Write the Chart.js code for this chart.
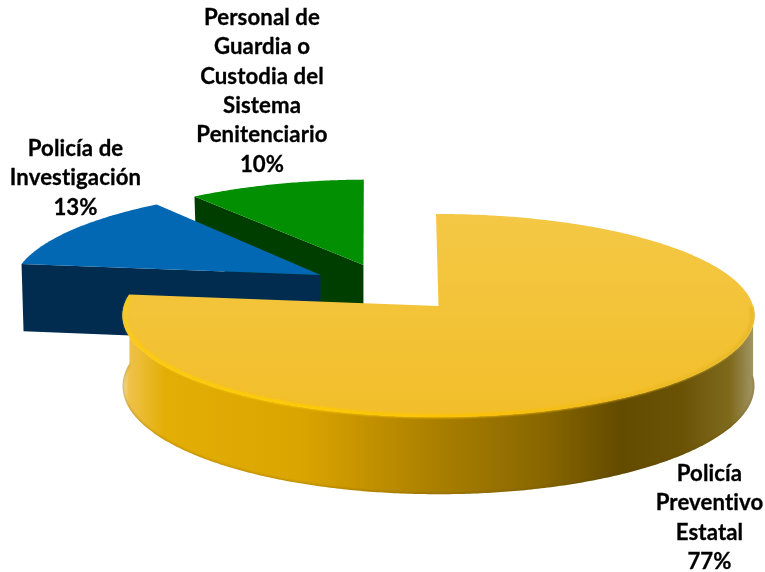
<!DOCTYPE html>
<html><head><meta charset="utf-8">
<style>html,body{margin:0;padding:0;background:#fff}canvas{display:block}</style>
<script src="https://cdn.jsdelivr.net/npm/chart.js@4"></script>
</head><body><canvas id="c" width="765" height="572"></canvas>
<script>
const categories = ["Policía Preventivo Estatal", "Policía de Investigación", "Personal de Guardia o Custodia del Sistema Penitenciario"];
const shares = [77, 13, 10];
const labelLines = [["Policía", "Preventivo", "Estatal"], ["Policía de", "Investigación"], ["Personal de", "Guardia o", "Custodia del", "Sistema", "Penitenciario"]];

const view = {ox: 438.5, oy: 306, a: 314.6, b: 100.6, k: 0.0936, depth: 70};
const deg = Math.PI / 180;
const sliceStyle = [
  {top: "#f3c434", side: "#dba500", shift: [0, 0], trim: [0, 0]},
  {top: "#0268b4", side: "#012c4f", shift: [-0.386, -0.317], trim: [0, -0.6 * deg]},
  {top: "#029002", side: "#003e00", shift: [-0.248, -0.424], trim: [-1.5 * deg, -0.7 * deg]}
];
const labelPlace = [{x: 709.5, y: 474}, {x: 75.5, y: 149}, {x: 262, y: 18}];
const lineStep = 29.3;

function proj(u, v, down) {
  const w = 1 / (1 - view.k * v);
  return [view.ox + view.a * u * w, view.oy + view.b * v * w + (down ? view.depth * w : 0)];
}
function arcPts(st, from, to, down, rad) {
  const out = [], n = Math.max(2, Math.ceil(Math.abs(to - from) / 0.01)), r = rad || 1;
  for (let i = 0; i <= n; i++) {
    const t = from + (to - from) * i / n;
    out.push(proj(st.shift[0] + r * Math.cos(t), st.shift[1] + r * Math.sin(t), down));
  }
  return out;
}
function trace(ctx, pts) {
  pts.forEach((p, i) => i ? ctx.lineTo(p[0], p[1]) : ctx.moveTo(p[0], p[1]));
}
function stops(g, list) { list.forEach(s => g.addColorStop((s[0] - 123) / 632, s[1])); return g; }
const solidPie = {
  id: "solidPie",
  beforeDatasetDraw(chart, args) {
    const ctx = chart.ctx, arcs = chart.getDatasetMeta(args.index).data;
    for (let i = arcs.length - 1; i >= 0; i--) {
      const el = arcs[i], st = sliceStyle[i];
      const a0 = el.startAngle + st.trim[0], a1 = el.endAngle + st.trim[1];
      const apex = proj(st.shift[0], st.shift[1]);
      const apexD = proj(st.shift[0], st.shift[1], true);
      ctx.save();
      if (i === 0) {
        const upper = arcPts(st, Math.max(a0, 0), a1, false);
        const lower = arcPts(st, Math.max(a0, 0), a1, true);
        const wall = new Path2D();
        upper.forEach((p, j) => j ? wall.lineTo(p[0], p[1]) : wall.moveTo(p[0], p[1]));
        lower.slice().reverse().forEach(p => wall.lineTo(p[0], p[1]));
        wall.closePath();
        ctx.fillStyle = stops(ctx.createLinearGradient(123, 0, 755, 0), [
          [123, "#f2dc98"], [129, "#eec24a"], [165, "#e3ae05"], [300, "#dba500"], [366, "#c49200"], [433, "#ab8000"],
          [540, "#8a6800"], [620, "#634b00"], [680, "#6a5205"], [730, "#7f6a1c"], [755, "#a39868"]]);
        ctx.fill(wall);
        // faint darker lower edge of the wall
        ctx.save();
        ctx.clip(wall);
        ctx.filter = "blur(0.8px)";
        ctx.beginPath(); trace(ctx, lower);
        ctx.strokeStyle = "rgba(90,62,0,0.3)"; ctx.lineWidth = 2; ctx.stroke();
        ctx.restore();
      } else {
        const outer = proj(st.shift[0] + Math.cos(a0), st.shift[1] + Math.sin(a0));
        const outerD = proj(st.shift[0] + Math.cos(a0), st.shift[1] + Math.sin(a0), true);
        ctx.beginPath();
        ctx.moveTo(apex[0], apex[1]); ctx.lineTo(outer[0], outer[1]);
        ctx.lineTo(outerD[0] + 2, outerD[1]); ctx.lineTo(apexD[0], apexD[1]); ctx.closePath();
        ctx.fillStyle = st.side; ctx.fill();
      }
      ctx.beginPath();
      ctx.moveTo(apex[0], apex[1]);
      arcPts(st, a0, a1, false).forEach(p => ctx.lineTo(p[0], p[1]));
      ctx.closePath();
      if (i === 0) {
        const g = ctx.createLinearGradient(0, 214, 0, 420);
        g.addColorStop(0, "#f4c845"); g.addColorStop(1, "#f2be2a");
        ctx.fillStyle = g; ctx.fill();
        // soft bevel along the front rim
        const rim = arcPts(st, 0.02, a1 - 0.04, false, 0.992);
        ctx.save();
        ctx.filter = "blur(1.2px)";
        ctx.lineJoin = "round"; ctx.lineCap = "round";
        ctx.beginPath(); trace(ctx, rim);
        ctx.strokeStyle = stops(ctx.createLinearGradient(123, 0, 755, 0), [
          [123, "#f5c830"], [135, "#fccb0a"], [300, "#ffcc00"], [480, "#fcc200"], [620, "#efbb1c"], [755, "#e8b92a"]]);
        ctx.lineWidth = 3.5; ctx.stroke();
        ctx.restore();
      } else {
        ctx.fillStyle = st.top; ctx.fill();
      }
      ctx.restore();
    }
    return false;
  },
  afterDatasetsDraw(chart) {
    const ctx = chart.ctx, vals = chart.data.datasets[0].data;
    ctx.save();
    ctx.font = "bold 22.2px Lato, sans-serif";
    ctx.letterSpacing = "0.1px";
    ctx.fillStyle = "#000";
    ctx.strokeStyle = "#000";
    ctx.lineWidth = 0.3;
    ctx.textAlign = "center";
    ctx.textBaseline = "middle";
    vals.forEach((v, i) => {
      const lines = labelLines[i].concat(v + "%"), p = labelPlace[i];
      lines.forEach((t, j) => {
        ctx.fillText(t, p.x, p.y + j * lineStep);
        ctx.strokeText(t, p.x, p.y + j * lineStep);
      });
    });
    ctx.restore();
  }
};
new Chart(document.getElementById("c"), {
  type: "pie",
  data: {labels: categories, datasets: [{data: shares, backgroundColor: sliceStyle.map(s => s.top), borderWidth: 0}]},
  options: {
    responsive: false, animation: false, rotation: -0.5,
    layout: {padding: 0},
    plugins: {legend: {display: false}, tooltip: {enabled: false}}
  },
  plugins: [solidPie]
});
</script></body></html>
